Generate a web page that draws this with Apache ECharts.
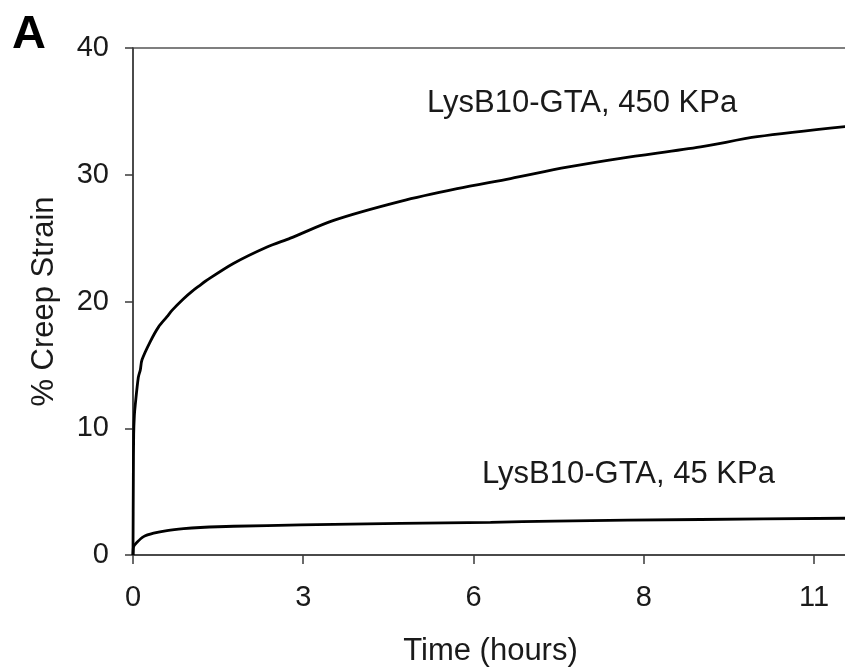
<!DOCTYPE html>
<html>
<head>
<meta charset="utf-8">
<script src="https://cdn.jsdelivr.net/npm/echarts@6/dist/echarts.min.js"></script>
<style>
html,body{margin:0;padding:0;background:#fff;}
#chart{width:845px;height:669px;}
</style>
</head>
<body>
<div id="chart"></div>
<script>
// Time in seconds; axis labels shown in hours
var time450 = [0, 20, 40, 80, 130, 311, 429, 529, 1000, 1504, 1998, 2292, 2956, 3467, 3955, 4249, 5895, 7875, 9245, 11789, 15709, 19041, 22174, 25506, 28639, 33340, 36672, 41862];
var strain450 = [0, 6.0, 9.5, 11.0, 11.8, 14.0, 14.6, 15.4, 16.8, 18.0, 18.8, 19.3, 20.2, 20.8, 21.3, 21.6, 23.0, 24.3, 25.0, 26.4, 27.9, 28.9, 29.7, 30.6, 31.3, 32.2, 33.0, 33.8];

var time45 = [0, 10, 35, 235, 623, 1211, 1998, 2974, 3955, 5912, 9832, 15709, 21000, 24760, 33340, 41862];
var strain45 = [0, 0.3, 0.65, 1.0, 1.45, 1.72, 1.93, 2.08, 2.17, 2.27, 2.37, 2.5, 2.58, 2.68, 2.8, 2.9];

var xTickValues = [0, 10000, 20000, 30000, 40000];
var xTickLabels = ['0', '3', '6', '8', '11'];

var yTickLabels = ['0', '10', '20', '30', '40'];

var seriesNames = ['LysB10-GTA, 450 KPa', 'LysB10-GTA, 45 KPa'];

function pairs(xs, ys) { return xs.map(function (x, i) { return [x, ys[i]]; }); }

var FONT = '"Liberation Sans", Arial, sans-serif';
var AX = '#3a3a3a';

var chart = echarts.init(document.getElementById('chart'), null, {renderer: 'canvas'});
chart.setOption({
  animation: false,
  backgroundColor: '#ffffff',
  grid: {
    left: 133, top: 48, width: 715, bottom: 114,
    outerBoundsMode: 'none', containLabel: false,
    show: true, borderColor: '#555', borderWidth: 1.5, backgroundColor: 'transparent'
  },
  xAxis: {
    type: 'value', min: 0, max: 42000, interval: 10000,
    name: 'Time (hours)', nameLocation: 'middle', nameGap: 81,
    nameTextStyle: {fontFamily: FONT, fontSize: 31, color: '#1a1a1a'},
    axisLine: {show: true, lineStyle: {color: AX, width: 1.5}},
    axisTick: {show: true, inside: false, length: 9, lineStyle: {color: AX, width: 1.5}},
    axisLabel: {
      margin: 28, fontFamily: FONT, fontSize: 29, color: '#1a1a1a', showMaxLabel: false,
      formatter: function (v) { var i = xTickValues.indexOf(v); return i >= 0 ? xTickLabels[i] : ''; }
    },
    splitLine: {show: false}
  },
  yAxis: {
    type: 'value', min: 0, max: 40, interval: 10,
    name: '% Creep Strain', nameLocation: 'middle', nameGap: 73, nameRotate: 90,
    nameTextStyle: {fontFamily: FONT, fontSize: 31, color: '#1a1a1a'},
    axisLine: {show: true, lineStyle: {color: AX, width: 1.5}},
    axisTick: {show: true, inside: false, length: 8, lineStyle: {color: AX, width: 1.5}},
    axisLabel: {
      margin: 24, fontFamily: FONT, fontSize: 29, color: '#1a1a1a',
      formatter: function (v) { return yTickLabels[v / 10]; }
    },
    splitLine: {show: false}
  },
  series: [
    {
      name: seriesNames[0], type: 'line', data: pairs(time450, strain450),
      showSymbol: false, smooth: 0.3, lineStyle: {color: '#000', width: 2.8}, z: 3
    },
    {
      name: seriesNames[1], type: 'line', data: pairs(time45, strain45),
      showSymbol: false, smooth: 0.3, lineStyle: {color: '#000', width: 2.8}, z: 3
    }
  ],
  graphic: [
    {type: 'text', left: 12, top: 12, style: {text: 'A', font: 'bold 47px ' + FONT, fill: '#000'}},
    {type: 'text', left: 427, top: 88, style: {text: seriesNames[0], font: '31px ' + FONT, fill: '#1a1a1a'}},
    {type: 'text', left: 482, top: 459, style: {text: seriesNames[1], font: '31px ' + FONT, fill: '#1a1a1a'}}
  ]
});
</script>
</body>
</html>
